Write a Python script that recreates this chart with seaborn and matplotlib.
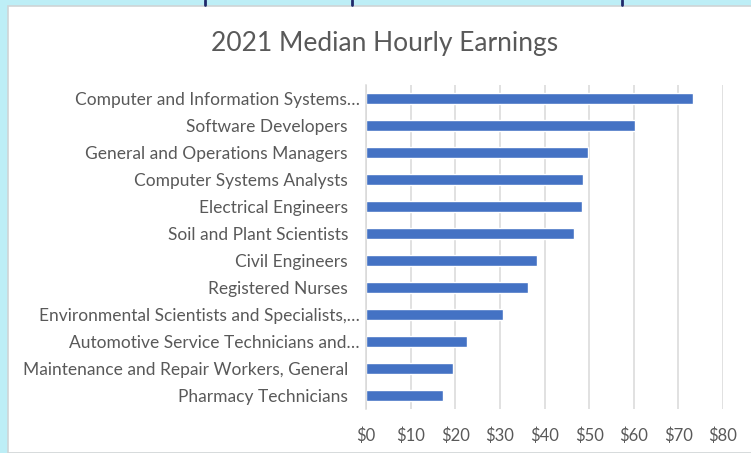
import pandas as pd
import matplotlib.pyplot as plt
import seaborn as sns
from matplotlib.patches import Rectangle
from matplotlib.lines import Line2D
from matplotlib.transforms import ScaledTranslation

occupations = [
    "Computer and Information Systems…",
    "Software Developers",
    "General and Operations Managers",
    "Computer Systems Analysts",
    "Electrical Engineers",
    "Soil and Plant Scientists",
    "Civil Engineers",
    "Registered Nurses",
    "Environmental Scientists and Specialists,…",
    "Automotive Service Technicians and…",
    "Maintenance and Repair Workers, General",
    "Pharmacy Technicians",
]
earnings = [73.2, 60.2, 49.8, 48.7, 48.3, 46.6, 38.3, 36.3, 30.6, 22.7, 19.4, 17.3]
ticks = [0, 10, 20, 30, 40, 50, 60, 70, 80]

df = pd.DataFrame({"occupation": occupations, "earnings": earnings})

sns.set_style("white")
plt.rcParams['font.family'] = ['Lato', 'DejaVu Sans']

fig = plt.figure(figsize=(7.51, 4.53), dpi=100, facecolor="#bdeef6")
W, H = 751, 453

# white chart panel on the light blue page
fig.add_artist(Rectangle((8 / W, 0), 1, 1 - 6 / H, transform=fig.transFigure,
                         facecolor="white", edgecolor="#cfd4d6", linewidth=1.2, zorder=-5))
# bits of the cut-off heading above the chart
for px in [205, 352, 622]:
    fig.add_artist(Line2D([px / W, px / W], [1, 1 - 4.5 / H], transform=fig.transFigure,
                          color="#1f2a6b", linewidth=2, zorder=-4))

ax = fig.add_axes([366 / W, 1 - 409 / H, (723 - 366) / W, (409 - 85) / H])
ax.set_facecolor("none")
sns.barplot(data=df, x="earnings", y="occupation", orient="h", color="#4472C4",
            width=0.4, saturation=1, ax=ax)

ax.set_xlim(0, 80)
ax.set_ylim(len(occupations) - 0.5, -0.5)
ax.set_xticks(ticks)
ax.set_xticklabels([f"${t}" for t in ticks])
ax.xaxis.grid(True, color="#d9d9d9", linewidth=1.1)
ax.set_axisbelow(True)
for s in ["top", "right", "bottom"]:
    ax.spines[s].set_visible(False)
ax.spines["left"].set_color("#d9d9d9")
ax.spines["left"].set_linewidth(1.1)
ax.set_xlabel("")
ax.set_ylabel("")
ax.tick_params(axis="both", length=0, colors="#595959")
ax.tick_params(axis="y", pad=13, labelsize=12.5)
ax.tick_params(axis="x", pad=13, labelsize=12)

# truncated labels sit a bit further right
for lab in ax.get_yticklabels():
    if lab.get_text().endswith("…"):
        lab.set_transform(lab.get_transform() + ScaledTranslation(12 / 100, 0, fig.dpi_scale_trans))

fig.text(385 / W, 1 - 43 / H, "2021 Median Hourly Earnings", ha="center", va="center",
         fontsize=19, color="#595959")

fig.savefig("out.png", dpi=100, facecolor=fig.get_facecolor())
